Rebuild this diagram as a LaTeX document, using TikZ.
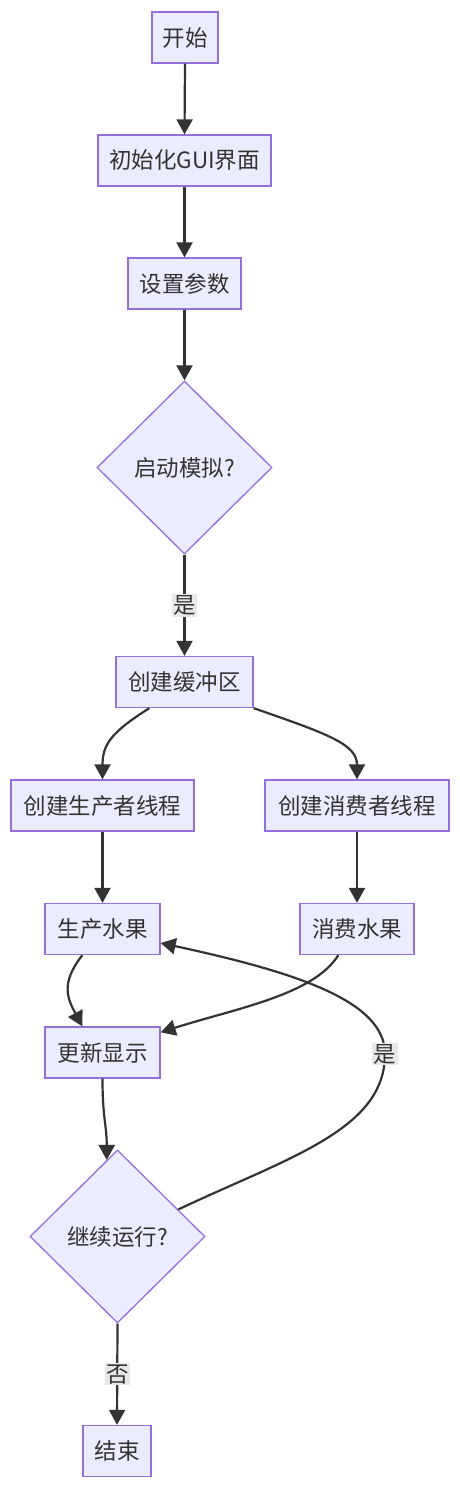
\documentclass[tikz,border=0pt]{standalone}
\usepackage{fontspec}
\setmainfont{Noto Sans CJK SC}
\usetikzlibrary{shapes.geometric,arrows.meta,calc}
\definecolor{nodefill}{HTML}{ECECFF}
\definecolor{nodeline}{HTML}{9370DB}
\definecolor{edgecol}{HTML}{333333}
\definecolor{lblbg}{HTML}{E8E8E8}
\tikzset{
  box/.style={draw=nodeline, fill=nodefill, line width=1.3pt, rectangle, minimum height=51pt, inner sep=0pt, text=edgecol, font=\fontsize{22.5}{26}\selectfont},
  dia/.style={draw=nodeline, fill=nodefill, line width=1.3pt, diamond, aspect=1, minimum width=175pt, minimum height=173pt, inner sep=0pt, text=edgecol, font=\fontsize{22.5}{26}\selectfont},
  edge/.style={draw=edgecol, line width=2.2pt, -{Triangle[length=15pt,width=16pt]}},
  lbl/.style={fill=lblbg, inner sep=1.5pt, text=edgecol, font=\fontsize{22.5}{26}\selectfont}
}
\begin{document}
\begin{tikzpicture}[x=1pt,y=-1pt]
\useasboundingbox (0,0) rectangle (460,1500);
\node[box, minimum width=66pt] (start) at (185,37.5) {开始};
\node[box, minimum width=173pt] (gui) at (184.5,160.5) {初始化GUI界面};
\node[box, minimum width=113pt] (set) at (184.5,283.5) {设置参数};
\node[dia] (dec1) at (184.5,467.5) {启动模拟?};
\node[box, minimum width=137pt] (buf) at (184.5,682) {创建缓冲区};
\node[box, minimum width=183pt] (pt) at (102.5,805.5) {创建生产者线程};
\node[box, minimum width=184pt] (ct) at (357,805.5) {创建消费者线程};
\node[box, minimum width=115pt] (prod) at (102.5,929) {生产水果};
\node[box, minimum width=114pt] (cons) at (357,929) {消费水果};
\node[box, minimum width=115pt] (upd) at (102.5,1052.5) {更新显示};
\node[dia] (dec2) at (117.5,1236.5) {继续运行?};
\node[box, minimum width=68pt] (end) at (117,1451) {结束};
\coordinate (ym) at (385,1054);

\draw[edge] (start.south) -- (gui.north);
\draw[edge] (gui.south) -- (set.north);
\draw[edge] (set.south) .. controls +(0,40) and +(0,-30) .. (dec1.north);
\draw[edge] (dec1.south) -- node[lbl] {是} (buf.north);
\draw[edge] ([xshift=34pt]buf.south west) .. controls +(-38,24) and +(0,-35) .. (pt.north);
\draw[edge] (buf.south east) .. controls +(75,26) and +(0,-35) .. (ct.north);
\draw[edge] (pt.south) -- (prod.north);
\draw[edge] (ct.south) -- (cons.north);
\draw[edge] ([xshift=38pt]prod.south west) .. controls +(-22,28) and +(-15,-28) .. ([xshift=38pt]upd.north west);
\draw[edge] ([xshift=39pt]cons.south west) .. controls +(-25,40) and +(75,-24) .. ([yshift=-6pt]upd.north east);
\draw[edge] (upd.south) .. controls +(0,40) and +(0,-35) .. (dec2.98);
\draw[edge] (dec2.24) .. controls +(110,-52) and (385,1130) .. (ym) .. controls (385,1002) and (300,973) .. ([yshift=-14pt]prod.east);
\node[lbl] (yl) at (ym) {是};
\draw[edge] (dec2.south) -- node[lbl] {否} (end.north);
\end{tikzpicture}
\end{document}
